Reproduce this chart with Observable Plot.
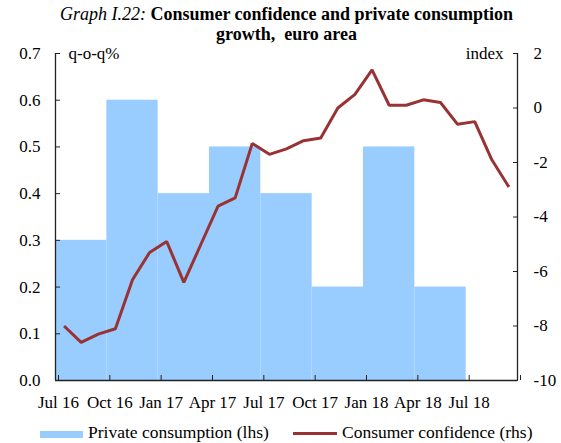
<!DOCTYPE html>
<html>
<head>
<meta charset="utf-8">
<script src="https://cdn.jsdelivr.net/npm/d3@7"></script>
<script src="https://cdn.jsdelivr.net/npm/@observablehq/plot@0.6"></script>
<style>
  body { margin: 0; background: white; font-family: "Liberation Serif", "Times New Roman", serif; color: #000; }
  #wrap { position: relative; width: 561px; height: 443px; overflow: hidden; }
  #title { position: relative; z-index: 1; height: 40px; box-sizing: border-box; padding-top: 4px; padding-left: 12px;
           text-align: center; font-size: 18px; line-height: 20px; white-space: nowrap; }
  #legend { position: relative; height: 28px; font-size: 17.5px; line-height: 20px; }
  #legend .sw { position: absolute; }
  #legend .tx { position: absolute; top: 7px; white-space: nowrap; }
  #chart svg, #chart svg text { font-family: "Liberation Serif", "Times New Roman", serif !important; }
</style>
</head>
<body>
<div id="wrap">
  <div id="title"><i>Graph I.22:</i> <b>Consumer confidence and private consumption</b><br><b>growth,&nbsp; euro area</b></div>
  <div id="chart"></div>
  <div id="legend">
    <div class="sw" style="left:40px;top:16px;width:43px;height:7px;background:#99CCFF"></div>
    <div class="tx" style="left:88px">Private consumption (lhs)</div>
    <div class="sw" style="left:293px;top:17px;width:44px;height:3px;background:#993333"></div>
    <div class="tx" style="left:342px">Consumer confidence (rhs)</div>
  </div>
</div>
<script>
// Quarter labels (x axis) and private consumption growth, q-o-q % (lhs)
const quarterLabels = ["Jul 16","Oct 16","Jan 17","Apr 17","Jul 17","Oct 17","Jan 18","Apr 18","Jul 18"];
const consumption = [0.3, 0.6, 0.4, 0.5, 0.4, 0.2, 0.5, 0.2];

// Monthly consumer confidence index (rhs), Jul 2016 - Sep 2018
const confidenceMonths = ["Jul 16","Aug 16","Sep 16","Oct 16","Nov 16","Dec 16","Jan 17","Feb 17","Mar 17",
  "Apr 17","May 17","Jun 17","Jul 17","Aug 17","Sep 17","Oct 17","Nov 17","Dec 17",
  "Jan 18","Feb 18","Mar 18","Apr 18","May 18","Jun 18","Jul 18","Aug 18","Sep 18"];
const confidence = [-8.0, -8.6, -8.3, -8.1, -6.3, -5.3, -4.9, -6.4, -5.0,
  -3.6, -3.3, -1.3, -1.7, -1.5, -1.2, -1.1, 0.0, 0.5,
  1.4, 0.1, 0.1, 0.3, 0.2, -0.6, -0.5, -1.9, -2.9];

// Axis ticks
const leftTicks = [0, 0.1, 0.2, 0.3, 0.4, 0.5, 0.6, 0.7];
const rightTicks = [-10, -8, -6, -4, -2, 0, 2];
const leftDomain = [0, 0.7];
const rightDomain = [-10, 2];

const toLeft = v => leftDomain[0] + (v - rightDomain[0]) / (rightDomain[1] - rightDomain[0]) * (leftDomain[1] - leftDomain[0]);
const toRight = y => rightDomain[0] + (y - leftDomain[0]) / (leftDomain[1] - leftDomain[0]) * (rightDomain[1] - rightDomain[0]);

const bars = consumption.map((v, i) => ({x1: i * 3, x2: i * 3 + 3, y: v, q: quarterLabels[i]}));
const line = confidence.map((v, i) => ({x: i + 0.5, y: toLeft(v), m: confidenceMonths[i]}));
const nMonths = quarterLabels.length * 3;
const xTicks = d3.range(0, nMonths + 1, 3);

const axisColor = "#222";
const serif = "Liberation Serif";

const chart = Plot.plot({
  width: 561,
  height: 375,
  marginTop: 13,
  marginBottom: 35,
  marginLeft: 55,
  marginRight: 44,
  style: "font-family: 'Liberation Serif', serif; font-size: 17px; background: transparent; color: #000; overflow: visible;",
  x: {domain: [0, nMonths], axis: null, label: null},
  y: {domain: leftDomain, axis: null, label: null},
  marks: [
    Plot.rectY(bars, {x1: "x1", x2: "x2", y: "y", fill: "#99CCFF"}),
    Plot.line(line, {x: "x", y: "y", stroke: "#993333", strokeWidth: 3, strokeLinejoin: "miter", strokeLinecap: "butt"}),
    Plot.ruleY([0], {stroke: axisColor, strokeWidth: 1.3}),
    Plot.ruleX([0, nMonths], {stroke: axisColor, strokeWidth: 1.3}),
    Plot.axisX(xTicks, {anchor: "bottom", tickSize: -5, tickPadding: 20, stroke: axisColor, label: null,
      tickFormat: d => quarterLabels[d / 3] ?? "", dx: 3, fill: "#000", fontFamily: serif, fontSize: 17}),
    Plot.axisY(leftTicks, {anchor: "left", tickSize: -5, tickPadding: 20, stroke: axisColor, label: null,
      tickFormat: d => d.toFixed(1), fill: "#000", fontFamily: serif, fontSize: 17}),
    Plot.axisY(rightTicks.map(toLeft), {anchor: "right", tickSize: -5, tickPadding: 21, stroke: axisColor, label: null,
      tickFormat: d => String(Math.round(toRight(d))), fill: "#000", textAnchor: "start", fontFamily: serif, fontSize: 17}),
    Plot.text(["q-o-q%"], {frameAnchor: "top-left", dx: 13, textAnchor: "start", lineAnchor: "middle", fill: "#000", fontFamily: serif, fontSize: 17}),
    Plot.text(["index"], {frameAnchor: "top-right", dx: -14, textAnchor: "end", lineAnchor: "middle", fill: "#000", fontFamily: serif, fontSize: 17})
  ]
});
document.getElementById("chart").appendChild(chart);
</script>
</body>
</html>
